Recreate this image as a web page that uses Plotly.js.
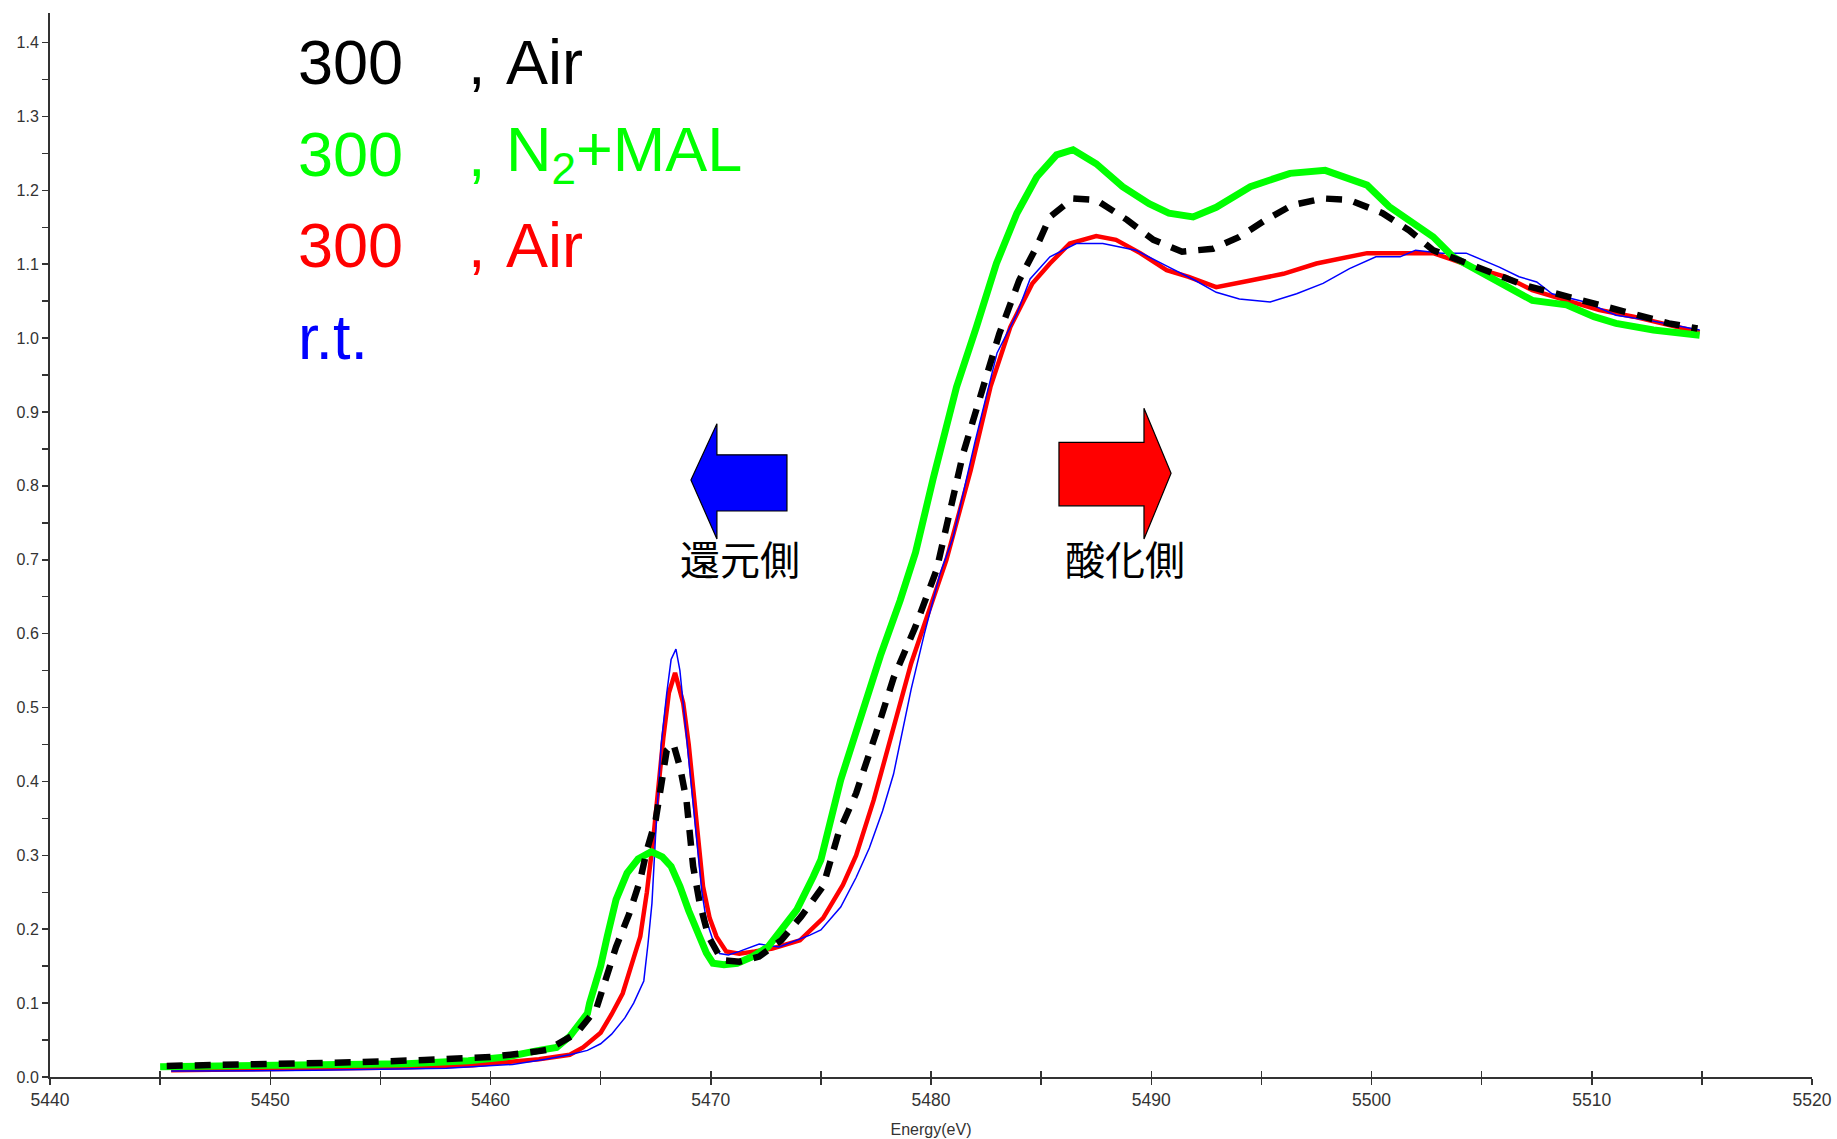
<!DOCTYPE html>
<html>
<head>
<meta charset="utf-8">
<script src="https://cdn.plot.ly/plotly-3.0.1.min.js"></script>
<style>html,body{margin:0;padding:0;background:#fff;}#chart{width:1837px;height:1139px;}</style>
</head>
<body>
<div id="chart"></div>
<script>
// ---- data ----
const airBlackE = [5445.3,5450,5454,5457,5460,5462.2,5462.6,5463.9,5464.8,5465.7,5466.3,5466.8,5467.1,5467.5,5468.0,5468.3,5468.6,5468.9,5469.1,5469.2,5469.5,5469.9,5470.5,5471.3,5472.2,5473.2,5474.1,5475.1,5475.8,5476.6,5477.5,5478.3,5479.3,5480.25,5481.46,5482.37,5483.1,5484.0,5484.8,5485.4,5486.45,5487.5,5488.9,5490.1,5491.4,5492.8,5494.0,5495.2,5496.4,5497.8,5499.0,5500.5,5501.7,5502.8,5504.0,5505.5,5506.9,5508.4,5509.7,5510.9,5512.3,5513.5,5514.8];
const airBlackY = [0.015,0.017,0.020,0.023,0.027,0.035,0.037,0.059,0.092,0.176,0.221,0.267,0.307,0.348,0.442,0.451,0.420,0.374,0.325,0.285,0.235,0.190,0.158,0.156,0.163,0.185,0.217,0.258,0.330,0.384,0.465,0.540,0.610,0.686,0.844,0.934,1.006,1.078,1.124,1.164,1.189,1.187,1.160,1.133,1.117,1.121,1.137,1.160,1.180,1.189,1.187,1.169,1.146,1.119,1.106,1.088,1.072,1.060,1.051,1.040,1.031,1.020,1.013];

const n2malE = [5445.0,5448,5451.6,5456.2,5459,5460.7,5462.2,5463.0,5463.6,5464.4,5464.5,5465.0,5465.3,5465.7,5466.2,5466.7,5467.3,5467.8,5468.2,5468.6,5469.0,5469.4,5469.8,5470.1,5470.6,5471.2,5471.9,5472.6,5473.1,5473.9,5474.65,5475.0,5475.9,5476.8,5477.7,5478.6,5479.3,5480.1,5481.16,5482.06,5482.97,5483.9,5484.8,5485.7,5486.45,5487.5,5488.7,5489.9,5490.8,5491.9,5492.95,5494.5,5496.3,5497.9,5499.0,5499.8,5500.8,5501.7,5502.8,5503.7,5505.1,5506.4,5507.3,5508.85,5510.1,5511.1,5512.8,5514.9];
const n2malY = [0.014,0.015,0.016,0.018,0.022,0.027,0.036,0.040,0.055,0.086,0.100,0.150,0.190,0.240,0.276,0.295,0.305,0.298,0.285,0.258,0.225,0.194,0.168,0.154,0.152,0.154,0.163,0.176,0.194,0.226,0.271,0.294,0.402,0.485,0.570,0.645,0.710,0.810,0.934,1.015,1.101,1.169,1.218,1.248,1.255,1.236,1.205,1.182,1.169,1.164,1.177,1.205,1.223,1.227,1.214,1.207,1.178,1.160,1.137,1.110,1.088,1.067,1.051,1.045,1.029,1.020,1.011,1.004];

const airRedE = [5445.5,5449,5453.2,5456,5459.2,5461,5462.2,5463.6,5464.2,5465.0,5465.5,5466.0,5466.4,5466.8,5467.1,5467.4,5467.85,5468.1,5468.38,5468.75,5469.0,5469.2,5469.4,5469.65,5469.95,5470.26,5470.7,5471.3,5472.0,5472.8,5474.05,5475.1,5476.0,5476.6,5477.4,5478.3,5479.1,5479.9,5480.7,5481.8,5482.7,5483.6,5484.6,5485.4,5486.3,5487.5,5488.4,5489.5,5490.7,5491.7,5492.95,5494.5,5496.0,5497.5,5499.0,5499.8,5501.3,5502.8,5503.7,5504.8,5506.1,5507.3,5508.85,5510.35,5511.9,5513.4,5514.9];
const airRedY = [0.009,0.010,0.011,0.013,0.016,0.020,0.024,0.030,0.040,0.060,0.085,0.113,0.150,0.190,0.250,0.325,0.460,0.520,0.547,0.506,0.450,0.393,0.330,0.258,0.215,0.190,0.170,0.167,0.170,0.174,0.185,0.215,0.260,0.300,0.375,0.475,0.560,0.630,0.700,0.821,0.934,1.015,1.074,1.101,1.128,1.138,1.133,1.115,1.092,1.083,1.069,1.078,1.087,1.101,1.110,1.115,1.115,1.115,1.106,1.094,1.083,1.065,1.051,1.038,1.029,1.018,1.008];

const rtE = [5445.5,5452,5458,5461,5462.5,5463.6,5464.4,5465.0,5465.5,5466.1,5466.5,5466.96,5467.15,5467.33,5467.5,5467.75,5468.0,5468.2,5468.42,5468.6,5468.8,5469.0,5469.3,5469.6,5469.8,5470.1,5470.4,5470.8,5471.3,5472.2,5473.1,5474.5,5475.0,5475.9,5476.6,5477.2,5477.8,5478.3,5479.1,5479.7,5480.4,5481.0,5482.0,5483.0,5483.9,5484.5,5485.4,5486.6,5487.8,5489.3,5490.8,5492.0,5492.95,5494.0,5495.4,5496.6,5497.8,5499.0,5500.2,5501.3,5502.0,5503.2,5504.3,5505.8,5506.7,5507.5,5508.2,5509.7,5511.1,5512.6,5514.9];
const rtY = [0.008,0.009,0.012,0.017,0.024,0.030,0.036,0.045,0.058,0.080,0.100,0.130,0.180,0.235,0.330,0.450,0.519,0.565,0.579,0.550,0.490,0.430,0.340,0.250,0.212,0.185,0.167,0.165,0.170,0.180,0.176,0.192,0.199,0.230,0.270,0.310,0.360,0.410,0.525,0.600,0.680,0.730,0.860,0.980,1.033,1.080,1.110,1.128,1.128,1.119,1.096,1.078,1.062,1.053,1.049,1.060,1.074,1.094,1.110,1.110,1.119,1.115,1.115,1.096,1.083,1.076,1.060,1.049,1.031,1.024,1.011];

const legendNums  = ["300", "300", "300"];
const legendConds = ["Air", "N<sub>2</sub>+MAL", "Air"];
const legendLast  = "r.t.";
const sideLabels  = ["還元側", "酸化側"];

// arrow outlines (energy, absorbance) – decorations
const blueArrow = [[5469.10,0.808],[5470.28,0.884],[5470.28,0.842],[5473.46,0.842],[5473.46,0.766],[5470.28,0.766],[5470.28,0.728]];
const redArrow  = [[5485.81,0.859],[5489.67,0.859],[5489.67,0.905],[5490.90,0.817],[5489.67,0.728],[5489.67,0.773],[5485.81,0.773]];

// ---- chart ----
const BLACK = '#000000', GREEN = '#00ff00', RED = '#ff0000', BLUE = '#0000ff';

const traces = [
  {x: airRedE, y: airRedY, name: '300, Air (red)', mode: 'lines', line: {color: RED, width: 4.5}, xaxis: 'x', yaxis: 'y'},
  {x: rtE, y: rtY, name: 'r.t.', mode: 'lines', line: {color: BLUE, width: 1.5}, xaxis: 'x', yaxis: 'y'},
  {x: n2malE, y: n2malY, name: '300, N2+MAL', mode: 'lines', line: {color: GREEN, width: 7}, xaxis: 'x', yaxis: 'y'},
  {x: airBlackE, y: airBlackY, name: '300, Air', mode: 'lines', line: {color: BLACK, width: 6.5, dash: '16px,12px'}, xaxis: 'x2', yaxis: 'y'}
];

function pathOf(pts) {
  return 'M ' + pts.map(p => p[0] + ',' + p[1]).join(' L ') + ' Z';
}

const legendFont = 'Liberation Sans, Arial, sans-serif';
const annotations = [];
const legendColors = [BLACK, GREEN, RED];
const rowY = [1.3735, 1.2497, 1.126];
function addText(x, y, text, color, size, family, xanchor) {
  annotations.push({x: x, y: y, xref: 'x', yref: 'y', text: text, showarrow: false,
    xanchor: xanchor || 'left', yanchor: 'middle', font: {family: family || legendFont, size: size || 63, color: color}});
}
for (let i = 0; i < 3; i++) {
  addText(5451.15, rowY[i], legendNums[i], legendColors[i]);
  addText(5458.9, rowY[i], ',', legendColors[i]);
  addText(5460.6, rowY[i], legendConds[i], legendColors[i]);
}
addText(5451.15, 1.002, legendLast, BLUE);
addText(5471.33, 0.702, sideLabels[0], '#000', 40, 'Noto Sans CJK JP, sans-serif', 'center');
addText(5488.81, 0.702, sideLabels[1], '#000', 40, 'Noto Sans CJK JP, sans-serif', 'center');

const shapes = [
  {type: 'path', xref: 'x', yref: 'y', path: pathOf(blueArrow), fillcolor: BLUE, line: {color: '#000', width: 1.2}},
  {type: 'path', xref: 'x', yref: 'y', path: pathOf(redArrow), fillcolor: RED, line: {color: '#000', width: 1.2}}
];

const axisColor = '#333333';
const tickFont = {family: 'Liberation Sans, Arial, sans-serif', size: 17.5, color: '#333'};

const layout = {
  width: 1837, height: 1139,
  margin: {l: 50, r: 25, t: 13, b: 62, pad: 0},
  paper_bgcolor: '#fff', plot_bgcolor: '#fff',
  showlegend: false,
  xaxis: {
    range: [5440, 5520], tick0: 5440, dtick: 10, tickformat: 'd',
    showgrid: false, zeroline: false, showline: true, linecolor: axisColor, linewidth: 2,
    ticks: 'outside', ticklen: 6, tickwidth: 1.5, tickcolor: axisColor,
    minor: {dtick: 5, tick0: 5440, ticks: 'outside', ticklen: 6, tickwidth: 1.5, tickcolor: axisColor, showgrid: false},
    tickfont: tickFont, automargin: false,
    title: {text: 'Energy(eV)', font: {family: 'Liberation Sans, Arial, sans-serif', size: 16, color: '#333'}, standoff: 15}
  },
  xaxis2: {
    overlaying: 'x', matches: 'x', anchor: 'y', side: 'bottom',
    range: [5440, 5520], tick0: 5440, dtick: 5,
    ticks: 'inside', ticklen: 6, tickwidth: 1.5, tickcolor: axisColor,
    showticklabels: false, showline: false, showgrid: false, zeroline: false
  },
  yaxis: {
    range: [0, 1.44], tick0: 0, dtick: 0.1, tickformat: '.1f',
    showgrid: false, zeroline: false, showline: true, linecolor: axisColor, linewidth: 2,
    ticks: 'outside', ticklen: 6, tickwidth: 1.5, tickcolor: axisColor,
    minor: {dtick: 0.05, tick0: 0, ticks: 'outside', ticklen: 6, tickwidth: 1.5, tickcolor: axisColor, showgrid: false},
    tickfont: {family: 'Liberation Sans, Arial, sans-serif', size: 16, color: '#333'}, automargin: false
  },
  annotations: annotations,
  shapes: shapes
};

Plotly.newPlot('chart', traces, layout, {displayModeBar: false, staticPlot: true});
</script>
</body>
</html>
